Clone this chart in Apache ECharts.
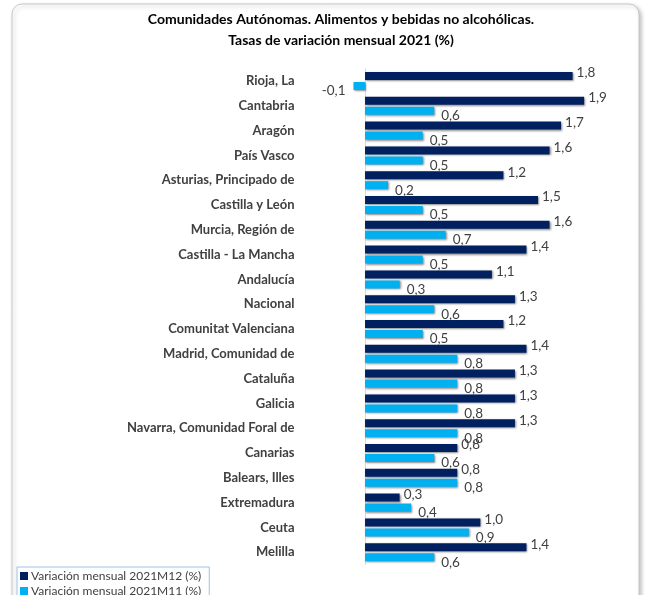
<!DOCTYPE html>
<html><head><meta charset="utf-8">
<script src="https://cdn.jsdelivr.net/npm/echarts@6/dist/echarts.min.js"></script>
<style>html,body{margin:0;padding:0;background:#fff}#c{width:647px;height:595px}</style>
</head><body><div id="c"></div>
<script>
const categories = ["Rioja, La","Cantabria","Aragón","País Vasco","Asturias, Principado de","Castilla y León","Murcia, Región de","Castilla - La Mancha","Andalucía","Nacional","Comunitat Valenciana","Madrid, Comunidad de","Cataluña","Galicia","Navarra, Comunidad Foral de","Canarias","Balears, Illes","Extremadura","Ceuta","Melilla"];
const m12 = [1.8,1.9,1.7,1.6,1.2,1.5,1.6,1.4,1.1,1.3,1.2,1.4,1.3,1.3,1.3,0.8,0.8,0.3,1.0,1.4];
const m11 = [-0.1,0.6,0.5,0.5,0.2,0.5,0.7,0.5,0.3,0.6,0.5,0.8,0.8,0.8,0.8,0.6,0.8,0.4,0.9,0.6];
const seriesNames = ["Variación mensual 2021M12 (%)","Variación mensual 2021M11 (%)"];
const titleLines = ["Comunidades Autónomas. Alimentos y bebidas no alcohólicas.","Tasas de variación mensual 2021 (%)"];

const fmt = v => v.toFixed(1).replace('.', ',');
const FONT = 'Lato, "Open Sans", sans-serif';
const chart = echarts.init(document.getElementById('c'));
const barShadow = {shadowBlur:2, shadowOffsetX:1, shadowOffsetY:1, shadowColor:'rgba(0,0,0,0.45)'};
chart.setOption({
  animation:false,
  graphic:[{type:'rect', z:-10, shape:{x:12,y:4,width:627,height:640,r:10},
    style:{fill:'#fff', stroke:'#c8c8c8', lineWidth:1, shadowBlur:4, shadowOffsetX:2, shadowOffsetY:2, shadowColor:'rgba(0,0,0,0.25)'}}],
  title:{text:titleLines.join('\n'), left:336, top:4, textAlign:'center',
    textStyle:{fontFamily:FONT, fontSize:14, fontWeight:'bold', color:'#000', lineHeight:21}},
  legend:{orient:'vertical', left:17, top:567, height:60, itemWidth:8, itemHeight:8, itemGap:3,
    padding:[3,8,3,3], borderColor:'#9dc3e6', borderWidth:1, icon:'rect',
    textStyle:{fontFamily:FONT, fontSize:12, color:'#404040', padding:[0,0,0,-2]}, data:seriesNames},
  grid:{left:353.5, width:253.7, top:68.6, height:496, containLabel:false},
  xAxis:{type:'value', min:-0.1, max:2.1, show:false},
  yAxis:{type:'category', data:categories, inverse:true,
    axisLine:{show:true, onZero:true, lineStyle:{color:'#d9d9d9'}}, axisTick:{show:false},
    axisLabel:{margin:59, fontFamily:FONT, fontSize:13, fontWeight:'bold', color:'#404040'}},
  series:[
    {name:seriesNames[0], type:'bar', data:m12, barWidth:8, barGap:'25%',
      itemStyle:Object.assign({color:'#002060'}, barShadow),
      label:{show:true, position:'right', distance:4, offset:[0,-3], formatter:p=>fmt(p.value),
        fontFamily:FONT, fontSize:13.5, color:'#404040'}},
    {name:seriesNames[1], type:'bar', data:m11.map(v => v < 0 ? {value:v, label:{position:'left', offset:[-3,5]}} : v),
      barWidth:8,
      itemStyle:Object.assign({color:'#00b0f0'}, barShadow),
      label:{show:true, position:'right', distance:5, offset:[2,5], formatter:p=>fmt(p.value),
        fontFamily:FONT, fontSize:13.5, color:'#404040'}}
  ]
});
</script></body></html>
